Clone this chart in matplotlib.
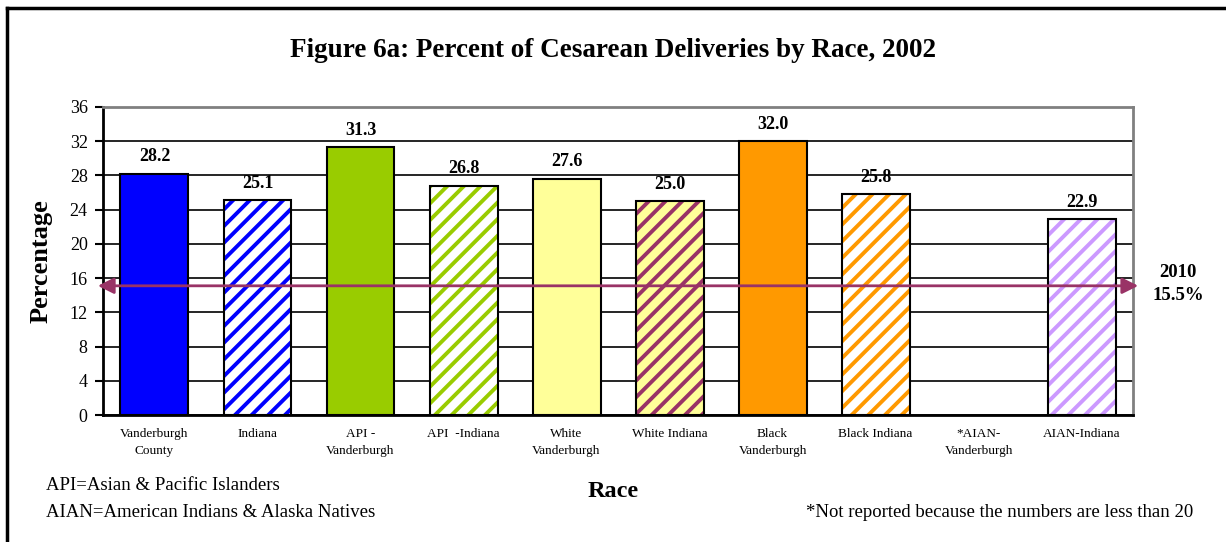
import numpy as np
import matplotlib
matplotlib.use("Agg")
import matplotlib.pyplot as plt
from matplotlib.lines import Line2D

categories = [
    "Vanderburgh\nCounty",
    "Indiana",
    "API -\nVanderburgh",
    "API  -Indiana",
    "White\nVanderburgh",
    "White Indiana",
    "Black\nVanderburgh",
    "Black Indiana",
    "*AIAN-\nVanderburgh",
    "AIAN-Indiana",
]
values = [28.2, 25.1, 31.3, 26.8, 27.6, 25.0, 32.0, 25.8, None, 22.9]
face_colors = ["#0000FF", "white", "#99CC00", "white", "#FFFF99",
               "#FFFF99", "#FF9900", "white", "white", "white"]
hatch_colors = [None, "#0000FF", None, "#99CC00", None,
                "#993366", None, "#FF9900", None, "#CC99FF"]
target_line = 15.1
target_label = "2010\n15.5%"
y_ticks = [0, 4, 8, 12, 16, 20, 24, 28, 32, 36]

plt.rcParams["font.family"] = ["Liberation Serif", "DejaVu Serif"]
plt.rcParams["hatch.linewidth"] = 2.8

fig = plt.figure(figsize=(12.26, 5.42), dpi=100)
ax = fig.add_axes([0.0840, 0.2343, 0.8402, 0.5683])

x = np.arange(len(categories))
w = 0.66
for i, v in enumerate(values):
    if v is None:
        continue
    if hatch_colors[i] is None:
        ax.bar(x[i], v, w, color=face_colors[i], edgecolor="black",
               linewidth=1.5, zorder=3)
    else:
        ax.bar(x[i], v, w, color=face_colors[i], edgecolor=hatch_colors[i],
               hatch="//", linewidth=0, zorder=3)
        ax.bar(x[i], v, w, fill=False, edgecolor="black", linewidth=1.5,
               zorder=4)
    ax.text(x[i], v + 1.0, f"{v:.1f}", ha="center", va="bottom",
            fontsize=13, fontweight="bold", zorder=5)

ax.set_xlim(-0.5, len(categories) - 0.5)
ax.set_ylim(0, 36)
ax.set_yticks(y_ticks)
ax.set_yticklabels([str(t) for t in y_ticks], fontsize=13)
ax.set_xticks(x)
ax.set_xticklabels(categories, fontsize=9.5, linespacing=1.6)
ax.tick_params(axis="x", length=0, pad=9)
ax.tick_params(axis="y", length=6, width=1.5, direction="out", pad=5)

ax.yaxis.grid(True, color="black", linewidth=1.2, zorder=0)
ax.set_axisbelow(True)
for s in ["top", "right"]:
    ax.spines[s].set_color("#808080")
    ax.spines[s].set_linewidth(2)
for s in ["left", "bottom"]:
    ax.spines[s].set_color("black")
    ax.spines[s].set_linewidth(2)

# 2010 target arrow
ax.annotate("", xy=(-0.55, target_line), xytext=(9.55, target_line),
            arrowprops=dict(arrowstyle="<|-|>", color="#993366", lw=2,
                            mutation_scale=24, shrinkA=0, shrinkB=0),
            annotation_clip=False, zorder=6)
fig.text(0.961, 0.476, target_label, ha="center", va="center",
         fontsize=13.5, fontweight="bold", linespacing=1.5)

fig.text(0.5, 0.906, "Figure 6a: Percent of Cesarean Deliveries by Race, 2002",
         ha="center", va="center", fontsize=19.5, fontweight="bold")
ax.set_ylabel("Percentage", fontsize=19, fontweight="bold", labelpad=12)
fig.text(0.5, 0.094, "Race", ha="center", va="center",
         fontsize=17.5, fontweight="bold")

fig.text(0.0375, 0.105, "API=Asian & Pacific Islanders", ha="left",
         va="center", fontsize=13.5)
fig.text(0.0375, 0.055, "AIAN=American Indians & Alaska Natives", ha="left",
         va="center", fontsize=13.5)
fig.text(0.973, 0.055, "*Not reported because the numbers are less than 20",
         ha="right", va="center", fontsize=13.5)

# outer chart border (top and left visible)
fig.add_artist(Line2D([0.006, 0.006], [0.0, 0.985], color="black", lw=2.5,
                      transform=fig.transFigure))
fig.add_artist(Line2D([0.006, 1.0], [0.985, 0.985], color="black", lw=2.5,
                      transform=fig.transFigure))

fig.savefig("out.png", dpi=100)
